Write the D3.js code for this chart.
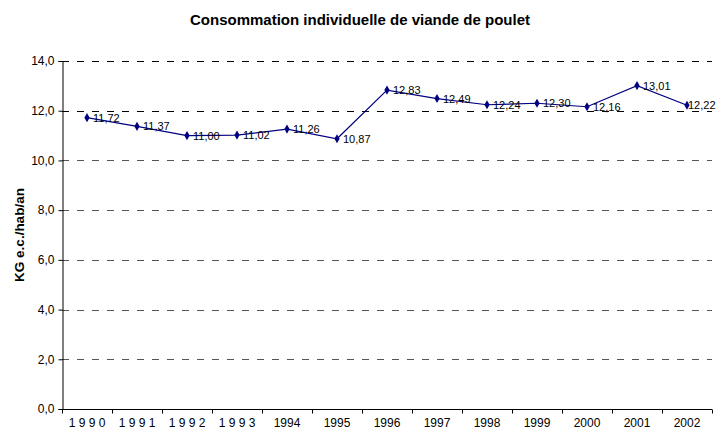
<!DOCTYPE html>
<html lang="fr">
<head>
<meta charset="UTF-8">
<script src="https://d3js.org/d3.v7.min.js"></script>
<style>
  body { margin: 0; background: #fff; }
  #plot { width: 717px; height: 430px; }
  text { font-family: "Liberation Sans", Arial, sans-serif; }
</style>
</head>
<body>
<div id="plot"></div>
<script>
  // data
  var years = ["1 9 9 0", "1 9 9 1", "1 9 9 2", "1 9 9 3", "1994", "1995", "1996",
               "1997", "1998", "1999", "2000", "2001", "2002"];
  var kg = [11.72, 11.37, 11.00, 11.02, 11.26, 10.87, 12.83,
            12.49, 12.24, 12.30, 12.16, 13.01, 12.22];
  var yTicks = [0, 2, 4, 6, 8, 10, 12, 14];

  var width = 717, height = 430;
  var margin = {top: 61, right: 5, bottom: 21, left: 62};

  var svg = d3.select("#plot").append("svg")
      .attr("width", width)
      .attr("height", height);

  var x = d3.scaleBand()
      .domain(years)
      .range([margin.left, width - margin.right])
      .paddingInner(0).paddingOuter(0);

  var y = d3.scaleLinear()
      .domain([0, 14])
      .range([height - margin.bottom, margin.top]);

  var fmt = function(v) { return d3.format(".2f")(v).replace(".", ","); };

  // title
  svg.append("text")
      .attr("x", 360)
      .attr("y", 25)
      .attr("text-anchor", "middle")
      .attr("font-size", "15px")
      .attr("font-weight", "bold")
      .text("Consommation individuelle de viande de poulet");

  // gridlines (dashed)
  svg.append("g")
    .selectAll("line")
    .data(yTicks.filter(function(d) { return d > 0; }))
    .join("line")
      .attr("x1", margin.left)
      .attr("x2", width - margin.right)
      .attr("y1", function(d) { return Math.round(y(d)) + 0.5; })
      .attr("y2", function(d) { return Math.round(y(d)) + 0.5; })
      .attr("stroke", function(d) { return d >= 12 ? "#000" : "#555"; })
      .attr("stroke-width", 1)
      .attr("stroke-dasharray", "7,8");

  // y axis
  var yAxis = svg.append("g")
      .attr("transform", "translate(" + (margin.left + 0.5) + ",0)")
      .call(d3.axisLeft(y).tickValues(yTicks).tickSize(4).tickPadding(4)
        .tickFormat(function(d) { return d3.format(".1f")(d).replace(".", ","); }));
  yAxis.selectAll("text").attr("font-size", "12px").attr("fill", "#000")
      .style("font-family", "'Liberation Sans', Arial, sans-serif");
  yAxis.selectAll("line, path").attr("stroke", "#000");

  // x axis, ticks between categories
  var xAxisG = svg.append("g")
      .attr("transform", "translate(0," + (y(0) + 0.5) + ")");
  xAxisG.append("line")
      .attr("x1", margin.left)
      .attr("x2", width - margin.right)
      .attr("stroke", "#000");
  xAxisG.selectAll("line.tick")
    .data(years.concat(["end"]))
    .join("line")
      .attr("class", "tick")
      .attr("x1", function(d, i) { return margin.left + i * x.bandwidth() + 0.5; })
      .attr("x2", function(d, i) { return margin.left + i * x.bandwidth() + 0.5; })
      .attr("y1", 0)
      .attr("y2", 4)
      .attr("stroke", "#000");
  xAxisG.selectAll("text")
    .data(years)
    .join("text")
      .attr("x", function(d) { return x(d) + x.bandwidth() / 2; })
      .attr("y", 17.5)
      .attr("text-anchor", "middle")
      .attr("font-size", "12px")
      .text(function(d) { return d; });

  // y label
  svg.append("text")
      .attr("transform", "translate(24," + (y(7)) + ") rotate(-90)")
      .attr("text-anchor", "middle")
      .attr("font-size", "13.5px")
      .attr("font-weight", "bold")
      .text("KG e.c./hab/an");

  // line
  var cx = function(d, i) { return x(years[i]) + x.bandwidth() / 2; };
  var line = d3.line()
      .x(cx)
      .y(function(d) { return y(d); });

  svg.append("path")
      .datum(kg)
      .attr("d", line)
      .attr("fill", "none")
      .attr("stroke", "#000080")
      .attr("stroke-width", 1.2);

  svg.append("g")
    .selectAll("path")
    .data(kg)
    .join("path")
      .attr("transform", function(d, i) { return "translate(" + cx(d, i) + "," + y(d) + ")"; })
      .attr("d", d3.symbol(d3.symbolDiamond, 24))
      .attr("fill", "#000080");

  // data labels (last one kept inside the picture)
  svg.append("g")
    .selectAll("text")
    .data(kg)
    .join("text")
      .attr("x", function(d, i) { return Math.min(cx(d, i) + 6, width - 29); })
      .attr("y", function(d) { return y(d) + 4; })
      .attr("font-size", "11px")
      .attr("fill", "#000")
      .text(fmt);
</script>
</body>
</html>
